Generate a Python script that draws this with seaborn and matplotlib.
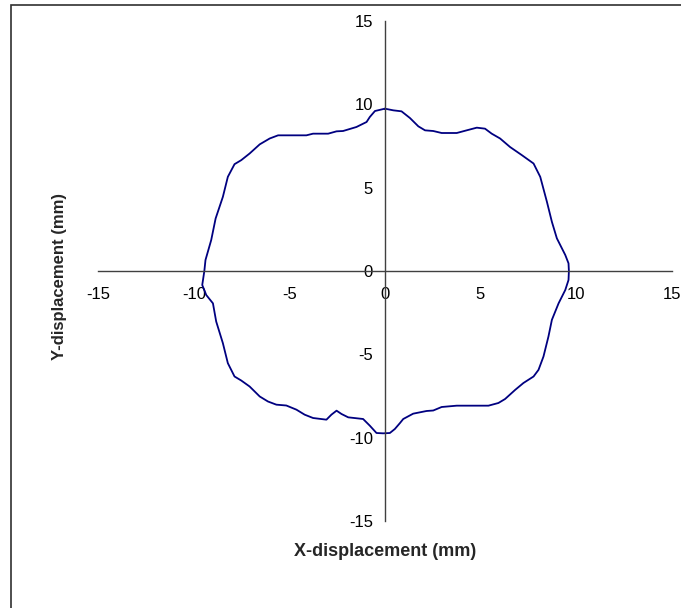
import matplotlib
matplotlib.use("Agg")
import matplotlib.pyplot as plt
from matplotlib.patches import Rectangle
import pandas as pd
import seaborn as sns

# Trace of the displacement orbit (mm), clockwise from the top
x_mm = [0.00, 0.44, 0.87, 1.31, 1.75, 2.10, 2.53, 2.97, 3.76, 4.28, 4.81, 5.24,
        5.59, 6.03, 6.55, 7.17, 7.78, 8.13, 8.48, 8.74, 9.00, 9.44, 9.61, 9.63,
        9.61, 9.44, 9.09, 8.74, 8.56, 8.30, 8.04, 7.78, 7.25, 6.82, 6.29, 5.94,
        5.42, 3.76, 2.97, 2.53, 2.18, 1.48, 0.96, 0.79, 0.52, 0.26, -0.09, -0.44,
        -0.52, -0.79, -1.14, -1.92, -2.27, -2.53, -2.80, -3.06, -3.76, -4.20,
        -4.63, -5.16, -5.68, -6.12, -6.55, -7.08, -7.52, -7.87, -8.22, -8.48,
        -8.83, -9.00, -9.35, -9.56, -9.45, -9.39, -9.09, -8.86, -8.48, -8.22,
        -7.87, -7.52, -7.08, -6.55, -6.03, -5.59, -4.11, -3.76, -2.97, -2.53,
        -2.19, -1.49, -0.96, -0.79, -0.52, 0.00]
y_mm = [9.74, 9.64, 9.58, 9.18, 8.68, 8.44, 8.40, 8.28, 8.28, 8.44, 8.60, 8.54,
        8.24, 7.95, 7.44, 6.95, 6.45, 5.65, 4.15, 2.95, 1.96, 0.96, 0.46, 0.00,
        -0.54, -1.14, -1.94, -2.93, -3.93, -5.13, -5.93, -6.33, -6.72, -7.13,
        -7.68, -7.92, -8.08, -8.08, -8.16, -8.37, -8.40, -8.56, -8.88, -9.12,
        -9.48, -9.72, -9.74, -9.72, -9.62, -9.28, -8.88, -8.78, -8.58, -8.38,
        -8.62, -8.92, -8.82, -8.62, -8.32, -8.07, -8.02, -7.83, -7.53, -6.93,
        -6.57, -6.33, -5.53, -4.33, -3.03, -1.94, -1.44, -0.84, 0.00, 0.66,
        1.86, 3.15, 4.45, 5.65, 6.41, 6.65, 7.05, 7.60, 7.95, 8.14, 8.14, 8.24,
        8.24, 8.38, 8.40, 8.64, 8.94, 9.24, 9.60, 9.74]

ticks = [-15, -10, -5, 0, 5, 10, 15]
tick_labels = ["-15", "-10", "-5", "0", "5", "10", "15"]

sns.set_style("white")
plt.rcParams["font.family"] = ["Liberation Sans", "DejaVu Sans"]

fig = plt.figure(figsize=(6.81, 6.08), dpi=100)
ax = fig.add_axes([98.3 / 681, 87 / 608, 573.2 / 681, 500 / 608])

orbit = pd.DataFrame({"x": x_mm, "y": y_mm})
sns.lineplot(data=orbit, x="x", y="y", sort=False, estimator=None,
             color="#000080", linewidth=1.3, ax=ax)

ax.set_xlim(-15, 15)
ax.set_ylim(-15, 15)
ax.set_xticks(ticks)
ax.set_xticklabels(tick_labels)
ax.set_yticks(ticks)
ax.set_yticklabels(tick_labels)

# Axes crossing at the origin
for side in ("top", "right"):
    ax.spines[side].set_visible(False)
ax.spines["left"].set_position(("data", 0))
ax.spines["bottom"].set_position(("data", 0))
for side in ("left", "bottom"):
    ax.spines[side].set_color("#404040")
    ax.spines[side].set_linewidth(1.0)

ax.tick_params(axis="x", direction="out", length=3.5, width=1.0,
               color="#404040", pad=8, labelsize=12, labelcolor="black")
ax.tick_params(axis="y", direction="out", length=4.5, width=1.0,
               color="#404040", pad=4, labelsize=12, labelcolor="black")

ax.set_xlabel("X-displacement (mm)", fontsize=13, fontweight="bold")
ax.set_ylabel("Y-displacement (mm)", fontsize=12, fontweight="bold")
ax.xaxis.set_label_coords(0.5, -0.06)
ax.xaxis.label.set_va("center")
ax.yaxis.set_label_coords(-0.067, 0.488)
ax.yaxis.label.set_va("center")

# Chart-area frame
fig.patches.append(Rectangle((11 / 681, -0.5), 2.0, 1.5 - 5 / 608,
                             transform=fig.transFigure, fill=False,
                             edgecolor="#303030", linewidth=1.2))

fig.savefig("out.png", dpi=100)
